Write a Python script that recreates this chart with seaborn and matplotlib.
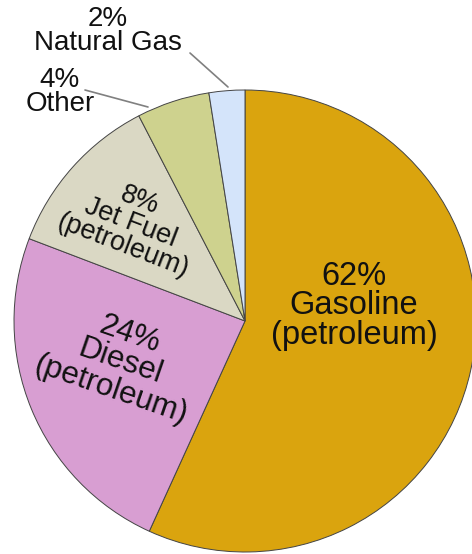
import matplotlib
matplotlib.use("Agg")
import matplotlib.pyplot as plt
import seaborn as sns
import numpy as np

sns.set_style("white")
plt.rcParams['font.family'] = ['Liberation Sans', 'DejaVu Sans']

# fuel shares as drawn in the wedges, and the percentages printed on them
fuels = ["Gasoline\n(petroleum)", "Diesel\n(petroleum)", "Jet Fuel\n(petroleum)", "Other", "Natural Gas"]
shares = [56.8, 24.0, 11.6, 5.1, 2.5]
pct_labels = ["62%", "24%", "8%", "4%", "2%"]
colors = ["#DAA40E", "#D89ED2", "#DAD8C4", "#CED28E", "#D4E4FA"]

fig = plt.figure(figsize=(4.72, 5.54), dpi=100)
ax = fig.add_axes([0, 0, 1, 1])

wedges, _ = ax.pie(shares, colors=colors, startangle=90, counterclock=False,
                   radius=1.0, wedgeprops=dict(edgecolor="#444444", linewidth=0.7))

# pie centre at pixel (245, 321), radius 231 px
cx, cy, r = 245, 321, 231
ax.set_xlim(-cx / r, (472 - cx) / r)
ax.set_ylim(-(554 - cy) / r, cy / r)
ax.set_aspect("auto")
ax.axis("off")


def px(x, y):
    return (x - cx) / r, (cy - y) / r


# labels inside the big wedges
ax.text(*px(354, 306), pct_labels[0] + "\n" + fuels[0], ha="center", va="center",
        fontsize=23.5, linespacing=0.95, color="#111111")
ax.text(*px(120, 362), pct_labels[1] + "\n" + fuels[1], ha="center", va="center",
        fontsize=22.5, linespacing=0.97, rotation=-19, rotation_mode="anchor",
        color="#111111")
ax.text(*px(131, 223), pct_labels[2] + "\n" + fuels[2], ha="center", va="center",
        fontsize=19.5, linespacing=0.9, rotation=-21, rotation_mode="anchor",
        color="#111111")

# small wedges get outside labels with leader lines
ax.text(*px(60, 92), pct_labels[3] + "\n" + fuels[3], ha="center", va="center",
        fontsize=20, linespacing=0.87, color="#111111")
ax.text(*px(108, 31), pct_labels[4] + "\n" + fuels[4], ha="center", va="center",
        fontsize=20, linespacing=0.87, color="#111111")

ax.plot(*zip(px(85, 90), px(148, 107)), color="#808080", lw=1.2)
ax.plot(*zip(px(190, 53), px(228, 87)), color="#808080", lw=1.2)

plt.savefig("out.png", dpi=100)
